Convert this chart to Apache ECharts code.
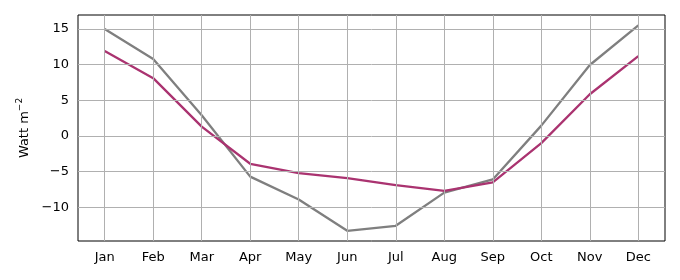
<!DOCTYPE html>
<html><head><meta charset="utf-8">
<script src="https://cdn.jsdelivr.net/npm/echarts@6/dist/echarts.min.js"></script>
<style>html,body{margin:0;padding:0;background:#fff}#c{width:680px;height:280px}</style>
</head><body><div id="c"></div>
<script>
const months = ['Jan','Feb','Mar','Apr','May','Jun','Jul','Aug','Sep','Oct','Nov','Dec'];
const grayValues = [15.0, 10.8, 2.9, -5.7, -8.9, -13.3, -12.6, -7.95, -6.1, 1.45, 9.95, 15.5];
const pinkValues = [11.9, 8.1, 1.3, -3.9, -5.2, -5.9, -6.9, -7.7, -6.5, -1.0, 5.85, 11.2];
const yTicks = [-10, -5, 0, 5, 10, 15];
const yMin = -14.73, yMax = 16.96;
const xMin = -0.55, xMax = 11.55;

const xIdx = months.map((m, i) => i);
const font = 'DejaVu Sans';
const chart = echarts.init(document.getElementById('c'), null, {renderer: 'canvas'});
chart.setOption({
  animation: false,
  grid: {left: 78, right: 15, top: 15, bottom: 39, show: true, borderColor: '#000', borderWidth: 1, backgroundColor: 'transparent'},
  xAxis: {
    type: 'value', min: xMin, max: xMax,
    axisLine: {show: false},
    splitLine: {show: false},
    axisTick: {show: true, customValues: xIdx, length: 5, lineStyle: {color: '#000', width: 1}},
    axisLabel: {customValues: xIdx, formatter: v => months[Math.round(v)], color: '#000', fontFamily: font, fontSize: 13, margin: 10}
  },
  yAxis: {
    type: 'value', min: yMin, max: yMax,
    name: 'Watt m{sup|−2}', nameLocation: 'middle', nameGap: 41, nameRotate: 90,
    nameTextStyle: {color: '#000', fontFamily: font, fontSize: 13,
      rich: {sup: {fontSize: 9, verticalAlign: 'top', padding: [0,0,9,0], fontFamily: font, color: '#000'}}},
    axisLine: {show: false},
    splitLine: {show: false},
    axisTick: {show: true, customValues: yTicks, length: 5, lineStyle: {color: '#000', width: 1}},
    axisLabel: {customValues: yTicks, formatter: v => (v < 0 ? '−' + Math.abs(v) : String(v)), color: '#000', fontFamily: font, fontSize: 13, margin: 9}
  },
  series: [
    {
      type: 'line', data: [], silent: true, z: 1,
      markLine: {
        silent: true, symbol: 'none', label: {show: false},
        lineStyle: {color: '#b0b0b0', width: 1, type: 'solid'},
        data: yTicks.map(v => ({yAxis: v})).concat(xIdx.map(v => ({xAxis: v})))
      }
    },
    {
      type: 'line', data: xIdx.map(i => [i, grayValues[i]]), showSymbol: false, z: 3,
      lineStyle: {color: '#7f7f7f', width: 2.3}
    },
    {
      type: 'line', data: xIdx.map(i => [i, pinkValues[i]]), showSymbol: false, z: 4,
      lineStyle: {color: '#aa3370', width: 2.3}
    }
  ]
});
</script></body></html>
